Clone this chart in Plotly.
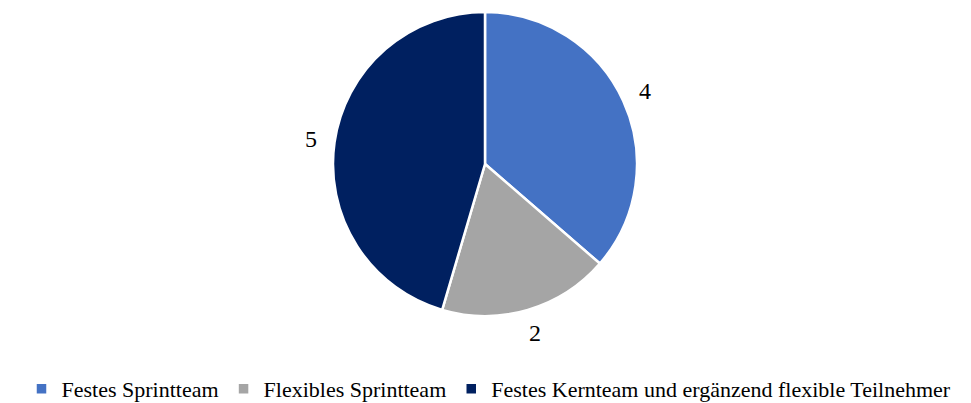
import math
import plotly.graph_objects as go

categories = ["Festes Sprintteam", "Flexibles Sprintteam", "Festes Kernteam und ergänzend flexible Teilnehmer"]
values = [4, 2, 5]
colors = ["#4472C4", "#A5A5A5", "#002060"]

# page body margin is 8px, so figure pixel = screen pixel - 8
OFF = 8
W, H = 963, 402
pie_top, pie_bottom = 12 - OFF, 316 - OFF
pie_cx = 485 - OFF
dom_y = [(H - pie_bottom) / H, (H - pie_top) / H]
half_w = (pie_bottom - pie_top) / 2
dom_x = [(pie_cx - half_w) / W, (pie_cx + half_w) / W]

SERIF = "Liberation Serif"

fig = go.Figure(go.Pie(
    labels=categories,
    values=values,
    sort=False,
    direction="clockwise",
    rotation=0,
    marker=dict(colors=colors, line=dict(color="white", width=2.5)),
    textinfo="none",
    hoverinfo="label+value",
    domain=dict(x=dom_x, y=dom_y),
))

# value labels placed just outside each slice, derived from the data
total = sum(values)
cx_px = pie_cx
cy_px = (pie_top + pie_bottom) / 2
r_px = (pie_bottom - pie_top) / 2
label_r = r_px + 24
cum = 0
for v in values:
    mid = (cum + v / 2) / total * 2 * math.pi
    cum += v
    x_px = cx_px + label_r * math.sin(mid)
    y_px = cy_px - label_r * math.cos(mid)
    fig.add_annotation(
        x=x_px / W, y=1 - y_px / H, xref="paper", yref="paper",
        text=str(v), showarrow=False,
        font=dict(family=SERIF, size=24, color="#000000"),
        xanchor="center", yanchor="middle",
    )

fig.update_layout(
    width=W, height=H,
    margin=dict(l=0, r=0, t=0, b=0),
    paper_bgcolor="white",
    plot_bgcolor="white",
    font=dict(family=SERIF, color="#000000"),
    showlegend=True,
    legend=dict(
        orientation="h",
        x=(489 - OFF) / W, xanchor="center",
        y=0, yanchor="bottom",
        font=dict(family=SERIF, size=22, color="#000000"),
        itemwidth=30,
        tracegroupgap=0,
    ),
)

fig.write_html("out.html")
